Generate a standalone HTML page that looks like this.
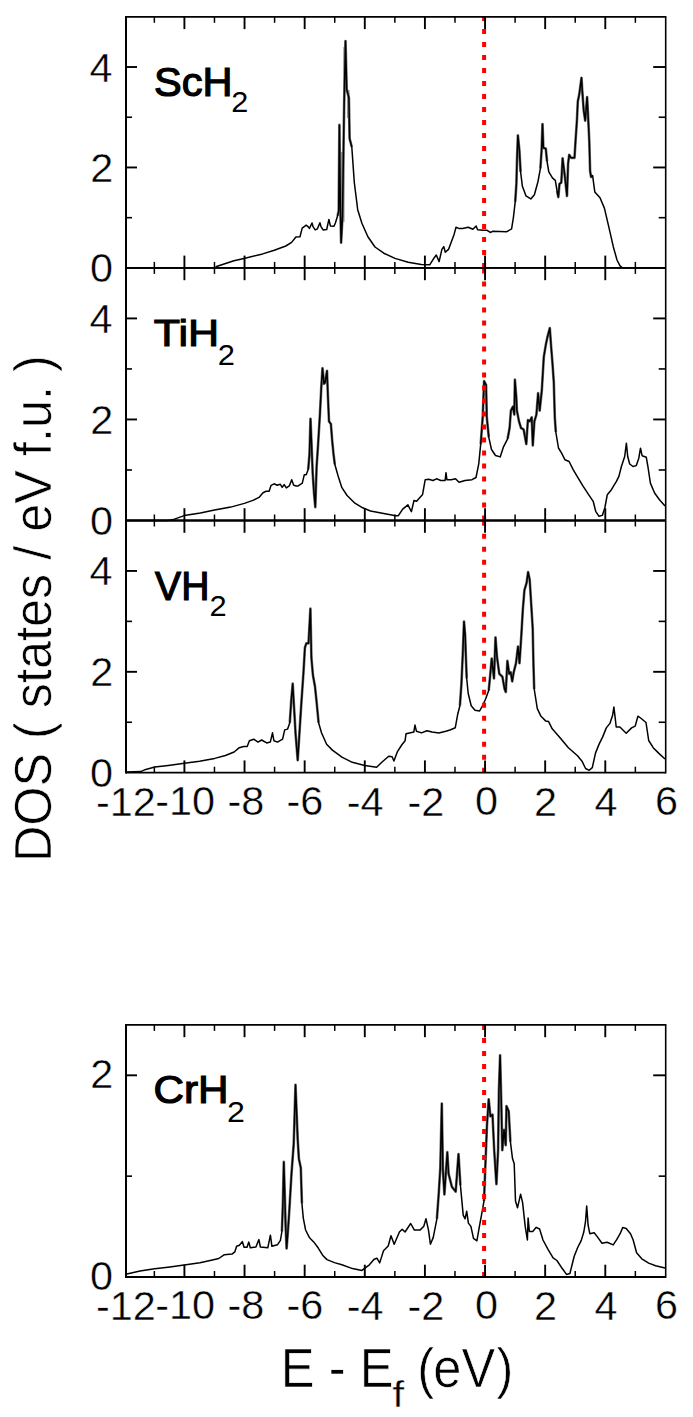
<!DOCTYPE html><html><head><meta charset="utf-8"><style>html,body{margin:0;padding:0;background:#fff;}svg{display:block}text{font-family:"Liberation Sans",sans-serif}</style></head><body>
<svg width="693" height="1417" viewBox="0 0 693 1417">
<rect width="693" height="1417" fill="#fff"/>
<path d="M340.4,152 L344.4,152 L344.6,222 L340.6,222 Z M343.3,47 L345.2,47 L345.2,101 L343.3,101 Z M347,90 L349.6,90 L349.6,118 L347,118 Z" fill="#999"/>
<polyline points="337.6,215.8 338.7,210.8 339.4,124.9 340.4,209.7 341.1,242.7 342.5,216.4 344.2,101.2 345.5,41.0 346.7,89.3 348.9,97.8 349.6,138.5 351.8,147.0" fill="none" stroke="#777" stroke-width="2.7" stroke-linejoin="round"/>
<polyline points="515.2,201.9 516.4,183.9 517.0,160.0 517.9,135.4 519.4,150.4 520.6,171.9" fill="none" stroke="#777" stroke-width="2.7" stroke-linejoin="round"/>
<polyline points="540.4,168.3 541.6,150.4 542.5,124.0 543.4,148.0 545.8,148.6 547.0,161.2" fill="none" stroke="#777" stroke-width="2.7" stroke-linejoin="round"/>
<polyline points="557.1,191.1 558.3,197.1 559.5,183.9 561.3,182.7 562.6,158.3 564.4,172.6 567.0,196.0 568.1,163.7 569.2,154.8 571.1,157.8 574.5,157.8 575.6,140.0 577.0,119.3 577.8,101.5 579.3,94.1 581.5,77.8 582.2,89.6 583.7,110.4 585.2,120.7 587.1,97.0 588.1,116.3 589.3,141.5 590.1,171.1 591.1,177.0 592.6,175.6" fill="none" stroke="#777" stroke-width="2.7" stroke-linejoin="round"/>
<polyline points="308.2,469.5 309.5,453.9 310.5,418.8 311.4,440.9 312.7,473.4 314.0,492.9 315.3,507.1 316.6,466.9 317.9,447.4 319.9,414.9 321.2,389.0 322.5,368.2 324.0,383.8 325.1,382.5 327.0,370.8 327.9,395.5 329.0,421.4 330.9,424.0 332.2,440.9 333.5,453.9 334.8,464.3" fill="none" stroke="#777" stroke-width="2.7" stroke-linejoin="round"/>
<polyline points="480.7,444.1 482.7,417.3 484.1,381.1 486.1,385.1 486.8,417.3 488.8,437.4" fill="none" stroke="#777" stroke-width="2.7" stroke-linejoin="round"/>
<polyline points="507.6,438.8 509.6,428.0 510.9,410.6 512.9,406.6 514.3,414.6 514.9,379.7 516.3,397.2 516.9,410.6 519.0,421.3 521.0,428.0 523.6,429.4 526.3,444.1 527.9,420.0 529.7,421.3 531.7,417.3 532.8,445.5 534.4,421.3 536.4,414.6 538.1,393.2 539.7,410.6 541.8,390.5 543.8,356.9 545.8,344.9 547.5,336.8 549.8,328.1 551.1,346.2 552.5,363.6 553.8,382.4 554.8,417.3 555.8,432.0" fill="none" stroke="#777" stroke-width="2.7" stroke-linejoin="round"/>
<polyline points="289.8,722.7 291.2,701.0 292.7,683.7 294.1,708.2 295.6,734.2 297.7,760.2 299.2,737.1 301.3,703.9 303.5,672.2 304.9,647.6 306.4,643.3 308.5,643.3 310.4,608.7 311.4,657.7 312.9,675.0 315.0,686.6 316.5,701.0 318.6,722.7" fill="none" stroke="#777" stroke-width="2.7" stroke-linejoin="round"/>
<polyline points="459.9,705.7 461.4,684.4 462.9,651.0 464.0,621.5 465.2,635.9 465.9,657.1 466.7,678.4" fill="none" stroke="#777" stroke-width="2.7" stroke-linejoin="round"/>
<polyline points="488.7,690.5 490.2,675.3 491.7,658.6 494.0,678.4 495.5,637.4 497.0,657.1 499.3,673.8 502.4,676.8 504.6,689.0 505.8,692.0 507.4,660.9 509.2,673.8 510.7,672.3 512.2,681.4 513.7,672.3 516.0,663.2 518.0,646.5 519.5,663.2 521.3,635.9 522.8,610.1 524.4,590.3 526.6,582.8 528.1,572.1 529.7,579.7 531.2,604.0 532.7,628.3 533.5,666.2 534.2,689.0" fill="none" stroke="#777" stroke-width="2.7" stroke-linejoin="round"/>
<polyline points="281.9,1231.5 282.9,1203.3 283.8,1161.9 284.8,1195.9 285.6,1225.6 286.6,1248.5 287.8,1233.0 289.3,1210.7 291.5,1173.7 293.7,1144.1 294.4,1121.9 295.5,1084.8 296.7,1114.4 297.7,1139.6 298.9,1158.9 300.8,1167.8 301.9,1203.3" fill="none" stroke="#777" stroke-width="2.7" stroke-linejoin="round"/>
<polyline points="436.9,1218.8 438.8,1192.6 440.3,1168.2 441.8,1103.5 442.9,1170.1 444.4,1194.4 447.3,1152.2 448.6,1173.8 451.9,1186.9 455.7,1191.6 458.5,1154.1 460.4,1185.1" fill="none" stroke="#777" stroke-width="2.7" stroke-linejoin="round"/>
<polyline points="484.0,1201.0 485.3,1167.1 487.0,1124.7 488.7,1099.3 490.4,1116.3 492.5,1114.6 494.2,1150.2 496.4,1184.1 498.1,1150.2 498.9,1090.8 500.1,1055.3 501.4,1107.8 502.3,1150.2 504.0,1129.8 505.7,1145.1 506.5,1106.1 508.7,1111.2 510.4,1141.7" fill="none" stroke="#777" stroke-width="2.7" stroke-linejoin="round"/>
<polyline points="126.0,268.0 215.5,267.6 216.5,266.5 233.9,260.7 244.0,258.4 262.7,253.9 274.3,250.3 285.8,246.0 291.6,242.4 295.9,237.0 300.0,236.7 301.1,232.4 302.2,228.1 306.2,225.2 308.0,226.6 309.4,228.4 312.0,223.0 313.0,226.6 315.2,229.9 317.4,228.8 319.9,222.7 321.0,226.6 323.1,229.9 326.7,229.5 328.9,219.4 330.4,225.9 334.0,226.3 335.4,223.0 337.6,215.8 338.7,210.8 339.4,124.9 340.4,209.7 341.1,242.7 342.5,216.4 344.2,101.2 345.5,41.0 346.7,89.3 348.9,97.8 349.6,138.5 351.8,147.0 354.3,182.5 357.7,209.7 361.9,223.2 367.9,236.8 375.0,247.0 383.8,253.2 395.0,258.4 408.2,262.2 421.3,264.4 429.7,264.8 433.5,258.8 436.3,255.0 439.1,261.6 441.9,249.4 443.8,246.6 445.3,252.2 448.5,249.4 451.3,241.9 454.1,234.4 456.0,227.3 458.8,228.4 462.6,228.4 468.2,227.3 472.9,229.2 476.1,226.0 477.6,229.7 483.2,230.3 487.0,230.3 490.7,232.5 492.4,231.3 506.8,231.7 511.6,228.9 513.4,217.5 515.2,201.9 516.4,183.9 517.0,160.0 517.9,135.4 519.4,150.4 520.6,171.9 522.4,186.3 526.0,195.9 530.8,198.9 534.4,194.7 538.0,181.5 540.4,168.3 541.6,150.4 542.5,124.0 543.4,148.0 545.8,148.6 547.0,161.2 548.8,171.9 552.4,177.9 555.3,180.3 557.1,191.1 558.3,197.1 559.5,183.9 561.3,182.7 562.6,158.3 564.4,172.6 567.0,196.0 568.1,163.7 569.2,154.8 571.1,157.8 574.5,157.8 575.6,140.0 577.0,119.3 577.8,101.5 579.3,94.1 581.5,77.8 582.2,89.6 583.7,110.4 585.2,120.7 587.1,97.0 588.1,116.3 589.3,141.5 590.1,171.1 591.1,177.0 592.6,175.6 594.8,191.9 600.0,197.8 604.4,208.1 608.9,227.4 613.3,246.7 617.0,260.0 620.0,265.9 622.2,267.5 665.0,268.0" fill="none" stroke="#000" stroke-width="1.5" stroke-linejoin="round"/>
<polyline points="126.0,520.5 168.0,520.4 173.1,519.6 184.2,515.6 200.4,512.9 214.5,510.1 230.7,507.1 244.4,503.4 252.9,500.4 259.0,497.4 263.0,492.7 266.1,491.3 269.1,491.3 271.1,485.3 274.1,483.8 277.2,485.3 280.2,484.2 282.2,487.3 284.2,484.6 286.3,487.9 289.3,485.9 291.7,479.8 293.7,485.3 296.4,485.9 297.8,486.1 302.3,483.1 304.3,474.7 306.2,474.7 308.2,469.5 309.5,453.9 310.5,418.8 311.4,440.9 312.7,473.4 314.0,492.9 315.3,507.1 316.6,466.9 317.9,447.4 319.9,414.9 321.2,389.0 322.5,368.2 324.0,383.8 325.1,382.5 327.0,370.8 327.9,395.5 329.0,421.4 330.9,424.0 332.2,440.9 333.5,453.9 334.8,464.3 338.1,476.0 341.9,487.7 347.1,495.5 354.9,503.2 362.7,507.8 370.5,511.0 383.7,513.4 395.8,515.7 398.4,515.7 402.7,509.1 407.9,504.8 411.4,511.7 414.0,500.4 416.6,501.3 419.7,497.8 422.6,494.4 425.2,479.7 428.7,479.3 433.0,480.5 436.5,478.8 440.8,480.5 445.1,480.5 446.0,472.7 446.9,479.7 451.2,479.7 455.5,478.8 459.0,482.3 465.0,480.5 472.0,479.7 476.0,477.5 478.7,464.2 480.7,444.1 482.7,417.3 484.1,381.1 486.1,385.1 486.8,417.3 488.8,437.4 491.5,449.5 495.5,455.5 500.2,456.9 503.5,446.8 507.6,438.8 509.6,428.0 510.9,410.6 512.9,406.6 514.3,414.6 514.9,379.7 516.3,397.2 516.9,410.6 519.0,421.3 521.0,428.0 523.6,429.4 526.3,444.1 527.9,420.0 529.7,421.3 531.7,417.3 532.8,445.5 534.4,421.3 536.4,414.6 538.1,393.2 539.7,410.6 541.8,390.5 543.8,356.9 545.8,344.9 547.5,336.8 549.8,328.1 551.1,346.2 552.5,363.6 553.8,382.4 554.8,417.3 555.8,432.0 558.5,448.0 561.6,453.2 565.0,459.8 569.1,461.5 573.3,469.8 578.2,478.1 583.2,486.4 589.8,496.3 593.2,501.3 595.7,511.3 599.0,516.3 602.3,515.4 604.8,508.0 607.3,494.7 611.4,489.7 616.4,481.4 618.9,476.4 621.4,466.5 624.7,456.5 626.4,443.2 627.7,456.5 629.7,464.0 633.0,466.5 636.3,465.6 638.8,458.2 640.5,448.2 642.1,455.7 646.3,457.3 647.9,466.5 650.4,483.1 654.6,493.0 659.5,499.7 665.0,506.0" fill="none" stroke="#000" stroke-width="1.5" stroke-linejoin="round"/>
<polyline points="126.7,772.0 140.6,771.6 145.8,769.4 154.8,767.1 168.3,765.4 184.4,763.3 199.5,761.2 214.7,758.4 225.4,755.5 234.1,752.0 239.3,747.7 243.6,746.5 247.2,746.5 249.4,740.7 253.7,739.2 258.0,742.1 261.6,740.0 266.7,742.9 270.3,742.1 272.5,732.8 273.9,740.7 277.5,742.1 282.6,739.2 284.7,729.9 287.6,729.1 289.8,722.7 291.2,701.0 292.7,683.7 294.1,708.2 295.6,734.2 297.7,760.2 299.2,737.1 301.3,703.9 303.5,672.2 304.9,647.6 306.4,643.3 308.5,643.3 310.4,608.7 311.4,657.7 312.9,675.0 315.0,686.6 316.5,701.0 318.6,722.7 321.5,732.8 326.6,744.3 332.4,750.1 341.9,757.1 352.3,762.3 364.8,765.5 376.6,767.2 381.8,762.3 388.7,756.3 392.1,756.8 393.9,761.0 397.3,751.9 401.7,745.0 405.1,740.7 406.0,733.8 409.5,732.9 413.8,732.0 415.0,725.1 416.4,731.2 421.6,732.9 426.8,730.8 432.0,732.0 438.9,732.9 445.8,731.2 450.0,730.0 455.3,727.7 457.6,714.8 459.9,705.7 461.4,684.4 462.9,651.0 464.0,621.5 465.2,635.9 465.9,657.1 466.7,678.4 468.2,693.5 471.2,705.7 475.0,710.2 479.6,711.0 482.6,705.7 485.7,698.8 488.7,690.5 490.2,675.3 491.7,658.6 494.0,678.4 495.5,637.4 497.0,657.1 499.3,673.8 502.4,676.8 504.6,689.0 505.8,692.0 507.4,660.9 509.2,673.8 510.7,672.3 512.2,681.4 513.7,672.3 516.0,663.2 518.0,646.5 519.5,663.2 521.3,635.9 522.8,610.1 524.4,590.3 526.6,582.8 528.1,572.1 529.7,579.7 531.2,604.0 532.7,628.3 533.5,666.2 534.2,689.0 537.3,708.7 541.0,716.3 545.6,720.9 548.6,721.6 552.2,728.8 559.4,736.9 568.4,747.7 577.5,755.8 582.0,761.2 585.6,768.5 589.2,770.3 592.3,767.6 595.5,753.1 599.1,744.1 602.7,736.9 606.3,727.9 609.9,723.4 612.6,715.3 613.9,707.1 615.3,718.9 616.2,727.0 619.9,727.0 626.2,733.3 631.6,727.9 635.2,726.1 637.9,716.2 640.6,718.0 646.0,722.5 648.7,740.5 653.2,747.7 658.6,753.1 665.0,759.0" fill="none" stroke="#000" stroke-width="1.5" stroke-linejoin="round"/>
<polyline points="126.9,1274.0 140.0,1271.0 154.6,1268.8 170.0,1266.9 184.1,1265.0 200.0,1262.8 211.3,1260.3 218.8,1258.5 224.4,1254.7 232.0,1254.1 234.8,1251.9 236.6,1246.3 239.4,1245.3 242.3,1241.6 244.1,1247.2 247.0,1247.2 248.8,1242.1 250.3,1247.8 255.9,1247.0 258.9,1239.6 260.4,1247.0 267.8,1247.8 270.4,1235.2 271.9,1246.3 277.4,1244.8 280.4,1240.4 281.9,1231.5 282.9,1203.3 283.8,1161.9 284.8,1195.9 285.6,1225.6 286.6,1248.5 287.8,1233.0 289.3,1210.7 291.5,1173.7 293.7,1144.1 294.4,1121.9 295.5,1084.8 296.7,1114.4 297.7,1139.6 298.9,1158.9 300.8,1167.8 301.9,1203.3 303.3,1218.1 305.6,1230.0 309.3,1237.4 313.7,1241.9 318.1,1247.8 322.6,1255.2 327.0,1259.6 334.4,1262.6 341.9,1264.8 352.5,1268.6 361.9,1270.4 365.6,1267.6 369.4,1264.8 374.1,1259.2 376.9,1258.2 379.7,1262.9 383.5,1250.7 388.2,1246.0 391.0,1235.7 394.2,1244.2 399.4,1232.0 402.2,1229.2 405.0,1232.0 410.7,1223.5 414.4,1230.1 420.0,1230.1 423.8,1226.3 426.0,1218.8 428.5,1230.1 430.4,1244.2 433.2,1237.6 436.9,1218.8 438.8,1192.6 440.3,1168.2 441.8,1103.5 442.9,1170.1 444.4,1194.4 447.3,1152.2 448.6,1173.8 451.9,1186.9 455.7,1191.6 458.5,1154.1 460.4,1185.1 463.2,1215.1 465.1,1218.8 466.7,1211.2 468.4,1223.1 470.9,1226.4 473.5,1238.3 476.9,1240.8 479.4,1226.4 481.9,1212.9 484.0,1201.0 485.3,1167.1 487.0,1124.7 488.7,1099.3 490.4,1116.3 492.5,1114.6 494.2,1150.2 496.4,1184.1 498.1,1150.2 498.9,1090.8 500.1,1055.3 501.4,1107.8 502.3,1150.2 504.0,1129.8 505.7,1145.1 506.5,1106.1 508.7,1111.2 510.4,1141.7 512.5,1158.6 514.2,1163.7 515.5,1201.0 517.5,1207.8 520.6,1194.2 522.6,1202.7 525.2,1226.4 527.4,1240.0 528.1,1218.0 529.4,1231.5 532.8,1231.5 536.2,1227.3 539.6,1229.0 543.0,1240.0 548.0,1249.3 553.1,1257.8 556.9,1260.5 562.1,1268.3 566.5,1274.4 569.9,1273.5 574.2,1256.2 577.7,1247.5 581.2,1240.6 583.8,1232.0 585.5,1221.6 586.7,1206.0 588.1,1225.0 589.8,1233.7 594.2,1232.8 597.6,1237.1 602.0,1243.2 607.1,1242.3 613.2,1244.9 616.7,1239.7 620.1,1233.7 622.7,1227.6 626.2,1228.5 630.5,1233.7 633.1,1239.7 636.6,1252.7 641.8,1258.8 648.7,1263.1 655.6,1265.7 665.0,1268.0" fill="none" stroke="#000" stroke-width="1.5" stroke-linejoin="round"/>
<line x1="484.1" y1="267.9" x2="484.1" y2="16.8" stroke="#ff0000" stroke-width="4" stroke-dasharray="5 8"/>
<line x1="484.1" y1="520.5" x2="484.1" y2="267.9" stroke="#ff0000" stroke-width="4" stroke-dasharray="5 8"/>
<line x1="484.1" y1="772.7" x2="484.1" y2="520.5" stroke="#ff0000" stroke-width="4" stroke-dasharray="5 8"/>
<line x1="484.1" y1="1277.0" x2="484.1" y2="1024.9" stroke="#ff0000" stroke-width="4" stroke-dasharray="5 8"/>
<line x1="126.00" y1="16.80" x2="665.70" y2="16.80" stroke="#000" stroke-width="1.8"/>
<line x1="126.00" y1="267.90" x2="665.70" y2="267.90" stroke="#000" stroke-width="1.8"/>
<line x1="126.00" y1="267.90" x2="665.70" y2="267.90" stroke="#000" stroke-width="1.8"/>
<line x1="126.00" y1="520.50" x2="665.70" y2="520.50" stroke="#000" stroke-width="1.8"/>
<line x1="126.00" y1="520.50" x2="665.70" y2="520.50" stroke="#000" stroke-width="1.8"/>
<line x1="126.00" y1="772.70" x2="665.70" y2="772.70" stroke="#000" stroke-width="1.8"/>
<line x1="126.00" y1="1024.90" x2="665.70" y2="1024.90" stroke="#000" stroke-width="1.8"/>
<line x1="126.00" y1="1277.00" x2="665.70" y2="1277.00" stroke="#000" stroke-width="1.8"/>
<line x1="126.00" y1="15.90" x2="126.00" y2="773.60" stroke="#000" stroke-width="2.0"/>
<line x1="665.70" y1="15.90" x2="665.70" y2="773.60" stroke="#000" stroke-width="1.6"/>
<line x1="126.00" y1="1024.00" x2="126.00" y2="1277.90" stroke="#000" stroke-width="2.0"/>
<line x1="665.70" y1="1024.00" x2="665.70" y2="1277.90" stroke="#000" stroke-width="1.6"/>
<line x1="154.35" y1="16.80" x2="154.35" y2="22.80" stroke="#000" stroke-width="1.5"/>
<line x1="154.35" y1="267.90" x2="154.35" y2="261.90" stroke="#000" stroke-width="1.5"/>
<line x1="184.41" y1="16.80" x2="184.41" y2="29.10" stroke="#000" stroke-width="1.9"/>
<line x1="184.41" y1="267.90" x2="184.41" y2="255.60" stroke="#000" stroke-width="1.9"/>
<line x1="214.47" y1="16.80" x2="214.47" y2="22.80" stroke="#000" stroke-width="1.5"/>
<line x1="214.47" y1="267.90" x2="214.47" y2="261.90" stroke="#000" stroke-width="1.5"/>
<line x1="244.54" y1="16.80" x2="244.54" y2="29.10" stroke="#000" stroke-width="1.9"/>
<line x1="244.54" y1="267.90" x2="244.54" y2="255.60" stroke="#000" stroke-width="1.9"/>
<line x1="274.60" y1="16.80" x2="274.60" y2="22.80" stroke="#000" stroke-width="1.5"/>
<line x1="274.60" y1="267.90" x2="274.60" y2="261.90" stroke="#000" stroke-width="1.5"/>
<line x1="304.66" y1="16.80" x2="304.66" y2="29.10" stroke="#000" stroke-width="1.9"/>
<line x1="304.66" y1="267.90" x2="304.66" y2="255.60" stroke="#000" stroke-width="1.9"/>
<line x1="334.73" y1="16.80" x2="334.73" y2="22.80" stroke="#000" stroke-width="1.5"/>
<line x1="334.73" y1="267.90" x2="334.73" y2="261.90" stroke="#000" stroke-width="1.5"/>
<line x1="364.79" y1="16.80" x2="364.79" y2="29.10" stroke="#000" stroke-width="1.9"/>
<line x1="364.79" y1="267.90" x2="364.79" y2="255.60" stroke="#000" stroke-width="1.9"/>
<line x1="394.85" y1="16.80" x2="394.85" y2="22.80" stroke="#000" stroke-width="1.5"/>
<line x1="394.85" y1="267.90" x2="394.85" y2="261.90" stroke="#000" stroke-width="1.5"/>
<line x1="424.91" y1="16.80" x2="424.91" y2="29.10" stroke="#000" stroke-width="1.9"/>
<line x1="424.91" y1="267.90" x2="424.91" y2="255.60" stroke="#000" stroke-width="1.9"/>
<line x1="454.98" y1="16.80" x2="454.98" y2="22.80" stroke="#000" stroke-width="1.5"/>
<line x1="454.98" y1="267.90" x2="454.98" y2="261.90" stroke="#000" stroke-width="1.5"/>
<line x1="485.04" y1="16.80" x2="485.04" y2="29.10" stroke="#000" stroke-width="1.9"/>
<line x1="485.04" y1="267.90" x2="485.04" y2="255.60" stroke="#000" stroke-width="1.9"/>
<line x1="515.10" y1="16.80" x2="515.10" y2="22.80" stroke="#000" stroke-width="1.5"/>
<line x1="515.10" y1="267.90" x2="515.10" y2="261.90" stroke="#000" stroke-width="1.5"/>
<line x1="545.17" y1="16.80" x2="545.17" y2="29.10" stroke="#000" stroke-width="1.9"/>
<line x1="545.17" y1="267.90" x2="545.17" y2="255.60" stroke="#000" stroke-width="1.9"/>
<line x1="575.23" y1="16.80" x2="575.23" y2="22.80" stroke="#000" stroke-width="1.5"/>
<line x1="575.23" y1="267.90" x2="575.23" y2="261.90" stroke="#000" stroke-width="1.5"/>
<line x1="605.29" y1="16.80" x2="605.29" y2="29.10" stroke="#000" stroke-width="1.9"/>
<line x1="605.29" y1="267.90" x2="605.29" y2="255.60" stroke="#000" stroke-width="1.9"/>
<line x1="635.36" y1="16.80" x2="635.36" y2="22.80" stroke="#000" stroke-width="1.5"/>
<line x1="635.36" y1="267.90" x2="635.36" y2="261.90" stroke="#000" stroke-width="1.5"/>
<line x1="154.35" y1="267.90" x2="154.35" y2="273.90" stroke="#000" stroke-width="1.5"/>
<line x1="154.35" y1="520.50" x2="154.35" y2="514.50" stroke="#000" stroke-width="1.5"/>
<line x1="184.41" y1="267.90" x2="184.41" y2="280.20" stroke="#000" stroke-width="1.9"/>
<line x1="184.41" y1="520.50" x2="184.41" y2="508.20" stroke="#000" stroke-width="1.9"/>
<line x1="214.47" y1="267.90" x2="214.47" y2="273.90" stroke="#000" stroke-width="1.5"/>
<line x1="214.47" y1="520.50" x2="214.47" y2="514.50" stroke="#000" stroke-width="1.5"/>
<line x1="244.54" y1="267.90" x2="244.54" y2="280.20" stroke="#000" stroke-width="1.9"/>
<line x1="244.54" y1="520.50" x2="244.54" y2="508.20" stroke="#000" stroke-width="1.9"/>
<line x1="274.60" y1="267.90" x2="274.60" y2="273.90" stroke="#000" stroke-width="1.5"/>
<line x1="274.60" y1="520.50" x2="274.60" y2="514.50" stroke="#000" stroke-width="1.5"/>
<line x1="304.66" y1="267.90" x2="304.66" y2="280.20" stroke="#000" stroke-width="1.9"/>
<line x1="304.66" y1="520.50" x2="304.66" y2="508.20" stroke="#000" stroke-width="1.9"/>
<line x1="334.73" y1="267.90" x2="334.73" y2="273.90" stroke="#000" stroke-width="1.5"/>
<line x1="334.73" y1="520.50" x2="334.73" y2="514.50" stroke="#000" stroke-width="1.5"/>
<line x1="364.79" y1="267.90" x2="364.79" y2="280.20" stroke="#000" stroke-width="1.9"/>
<line x1="364.79" y1="520.50" x2="364.79" y2="508.20" stroke="#000" stroke-width="1.9"/>
<line x1="394.85" y1="267.90" x2="394.85" y2="273.90" stroke="#000" stroke-width="1.5"/>
<line x1="394.85" y1="520.50" x2="394.85" y2="514.50" stroke="#000" stroke-width="1.5"/>
<line x1="424.91" y1="267.90" x2="424.91" y2="280.20" stroke="#000" stroke-width="1.9"/>
<line x1="424.91" y1="520.50" x2="424.91" y2="508.20" stroke="#000" stroke-width="1.9"/>
<line x1="454.98" y1="267.90" x2="454.98" y2="273.90" stroke="#000" stroke-width="1.5"/>
<line x1="454.98" y1="520.50" x2="454.98" y2="514.50" stroke="#000" stroke-width="1.5"/>
<line x1="485.04" y1="267.90" x2="485.04" y2="280.20" stroke="#000" stroke-width="1.9"/>
<line x1="485.04" y1="520.50" x2="485.04" y2="508.20" stroke="#000" stroke-width="1.9"/>
<line x1="515.10" y1="267.90" x2="515.10" y2="273.90" stroke="#000" stroke-width="1.5"/>
<line x1="515.10" y1="520.50" x2="515.10" y2="514.50" stroke="#000" stroke-width="1.5"/>
<line x1="545.17" y1="267.90" x2="545.17" y2="280.20" stroke="#000" stroke-width="1.9"/>
<line x1="545.17" y1="520.50" x2="545.17" y2="508.20" stroke="#000" stroke-width="1.9"/>
<line x1="575.23" y1="267.90" x2="575.23" y2="273.90" stroke="#000" stroke-width="1.5"/>
<line x1="575.23" y1="520.50" x2="575.23" y2="514.50" stroke="#000" stroke-width="1.5"/>
<line x1="605.29" y1="267.90" x2="605.29" y2="280.20" stroke="#000" stroke-width="1.9"/>
<line x1="605.29" y1="520.50" x2="605.29" y2="508.20" stroke="#000" stroke-width="1.9"/>
<line x1="635.36" y1="267.90" x2="635.36" y2="273.90" stroke="#000" stroke-width="1.5"/>
<line x1="635.36" y1="520.50" x2="635.36" y2="514.50" stroke="#000" stroke-width="1.5"/>
<line x1="154.35" y1="520.50" x2="154.35" y2="526.50" stroke="#000" stroke-width="1.5"/>
<line x1="154.35" y1="772.70" x2="154.35" y2="766.70" stroke="#000" stroke-width="1.5"/>
<line x1="184.41" y1="520.50" x2="184.41" y2="532.80" stroke="#000" stroke-width="1.9"/>
<line x1="184.41" y1="772.70" x2="184.41" y2="760.40" stroke="#000" stroke-width="1.9"/>
<line x1="214.47" y1="520.50" x2="214.47" y2="526.50" stroke="#000" stroke-width="1.5"/>
<line x1="214.47" y1="772.70" x2="214.47" y2="766.70" stroke="#000" stroke-width="1.5"/>
<line x1="244.54" y1="520.50" x2="244.54" y2="532.80" stroke="#000" stroke-width="1.9"/>
<line x1="244.54" y1="772.70" x2="244.54" y2="760.40" stroke="#000" stroke-width="1.9"/>
<line x1="274.60" y1="520.50" x2="274.60" y2="526.50" stroke="#000" stroke-width="1.5"/>
<line x1="274.60" y1="772.70" x2="274.60" y2="766.70" stroke="#000" stroke-width="1.5"/>
<line x1="304.66" y1="520.50" x2="304.66" y2="532.80" stroke="#000" stroke-width="1.9"/>
<line x1="304.66" y1="772.70" x2="304.66" y2="760.40" stroke="#000" stroke-width="1.9"/>
<line x1="334.73" y1="520.50" x2="334.73" y2="526.50" stroke="#000" stroke-width="1.5"/>
<line x1="334.73" y1="772.70" x2="334.73" y2="766.70" stroke="#000" stroke-width="1.5"/>
<line x1="364.79" y1="520.50" x2="364.79" y2="532.80" stroke="#000" stroke-width="1.9"/>
<line x1="364.79" y1="772.70" x2="364.79" y2="760.40" stroke="#000" stroke-width="1.9"/>
<line x1="394.85" y1="520.50" x2="394.85" y2="526.50" stroke="#000" stroke-width="1.5"/>
<line x1="394.85" y1="772.70" x2="394.85" y2="766.70" stroke="#000" stroke-width="1.5"/>
<line x1="424.91" y1="520.50" x2="424.91" y2="532.80" stroke="#000" stroke-width="1.9"/>
<line x1="424.91" y1="772.70" x2="424.91" y2="760.40" stroke="#000" stroke-width="1.9"/>
<line x1="454.98" y1="520.50" x2="454.98" y2="526.50" stroke="#000" stroke-width="1.5"/>
<line x1="454.98" y1="772.70" x2="454.98" y2="766.70" stroke="#000" stroke-width="1.5"/>
<line x1="485.04" y1="520.50" x2="485.04" y2="532.80" stroke="#000" stroke-width="1.9"/>
<line x1="485.04" y1="772.70" x2="485.04" y2="760.40" stroke="#000" stroke-width="1.9"/>
<line x1="515.10" y1="520.50" x2="515.10" y2="526.50" stroke="#000" stroke-width="1.5"/>
<line x1="515.10" y1="772.70" x2="515.10" y2="766.70" stroke="#000" stroke-width="1.5"/>
<line x1="545.17" y1="520.50" x2="545.17" y2="532.80" stroke="#000" stroke-width="1.9"/>
<line x1="545.17" y1="772.70" x2="545.17" y2="760.40" stroke="#000" stroke-width="1.9"/>
<line x1="575.23" y1="520.50" x2="575.23" y2="526.50" stroke="#000" stroke-width="1.5"/>
<line x1="575.23" y1="772.70" x2="575.23" y2="766.70" stroke="#000" stroke-width="1.5"/>
<line x1="605.29" y1="520.50" x2="605.29" y2="532.80" stroke="#000" stroke-width="1.9"/>
<line x1="605.29" y1="772.70" x2="605.29" y2="760.40" stroke="#000" stroke-width="1.9"/>
<line x1="635.36" y1="520.50" x2="635.36" y2="526.50" stroke="#000" stroke-width="1.5"/>
<line x1="635.36" y1="772.70" x2="635.36" y2="766.70" stroke="#000" stroke-width="1.5"/>
<line x1="154.35" y1="1024.90" x2="154.35" y2="1030.90" stroke="#000" stroke-width="1.5"/>
<line x1="154.35" y1="1277.00" x2="154.35" y2="1271.00" stroke="#000" stroke-width="1.5"/>
<line x1="184.41" y1="1024.90" x2="184.41" y2="1037.20" stroke="#000" stroke-width="1.9"/>
<line x1="184.41" y1="1277.00" x2="184.41" y2="1264.70" stroke="#000" stroke-width="1.9"/>
<line x1="214.47" y1="1024.90" x2="214.47" y2="1030.90" stroke="#000" stroke-width="1.5"/>
<line x1="214.47" y1="1277.00" x2="214.47" y2="1271.00" stroke="#000" stroke-width="1.5"/>
<line x1="244.54" y1="1024.90" x2="244.54" y2="1037.20" stroke="#000" stroke-width="1.9"/>
<line x1="244.54" y1="1277.00" x2="244.54" y2="1264.70" stroke="#000" stroke-width="1.9"/>
<line x1="274.60" y1="1024.90" x2="274.60" y2="1030.90" stroke="#000" stroke-width="1.5"/>
<line x1="274.60" y1="1277.00" x2="274.60" y2="1271.00" stroke="#000" stroke-width="1.5"/>
<line x1="304.66" y1="1024.90" x2="304.66" y2="1037.20" stroke="#000" stroke-width="1.9"/>
<line x1="304.66" y1="1277.00" x2="304.66" y2="1264.70" stroke="#000" stroke-width="1.9"/>
<line x1="334.73" y1="1024.90" x2="334.73" y2="1030.90" stroke="#000" stroke-width="1.5"/>
<line x1="334.73" y1="1277.00" x2="334.73" y2="1271.00" stroke="#000" stroke-width="1.5"/>
<line x1="364.79" y1="1024.90" x2="364.79" y2="1037.20" stroke="#000" stroke-width="1.9"/>
<line x1="364.79" y1="1277.00" x2="364.79" y2="1264.70" stroke="#000" stroke-width="1.9"/>
<line x1="394.85" y1="1024.90" x2="394.85" y2="1030.90" stroke="#000" stroke-width="1.5"/>
<line x1="394.85" y1="1277.00" x2="394.85" y2="1271.00" stroke="#000" stroke-width="1.5"/>
<line x1="424.91" y1="1024.90" x2="424.91" y2="1037.20" stroke="#000" stroke-width="1.9"/>
<line x1="424.91" y1="1277.00" x2="424.91" y2="1264.70" stroke="#000" stroke-width="1.9"/>
<line x1="454.98" y1="1024.90" x2="454.98" y2="1030.90" stroke="#000" stroke-width="1.5"/>
<line x1="454.98" y1="1277.00" x2="454.98" y2="1271.00" stroke="#000" stroke-width="1.5"/>
<line x1="485.04" y1="1024.90" x2="485.04" y2="1037.20" stroke="#000" stroke-width="1.9"/>
<line x1="485.04" y1="1277.00" x2="485.04" y2="1264.70" stroke="#000" stroke-width="1.9"/>
<line x1="515.10" y1="1024.90" x2="515.10" y2="1030.90" stroke="#000" stroke-width="1.5"/>
<line x1="515.10" y1="1277.00" x2="515.10" y2="1271.00" stroke="#000" stroke-width="1.5"/>
<line x1="545.17" y1="1024.90" x2="545.17" y2="1037.20" stroke="#000" stroke-width="1.9"/>
<line x1="545.17" y1="1277.00" x2="545.17" y2="1264.70" stroke="#000" stroke-width="1.9"/>
<line x1="575.23" y1="1024.90" x2="575.23" y2="1030.90" stroke="#000" stroke-width="1.5"/>
<line x1="575.23" y1="1277.00" x2="575.23" y2="1271.00" stroke="#000" stroke-width="1.5"/>
<line x1="605.29" y1="1024.90" x2="605.29" y2="1037.20" stroke="#000" stroke-width="1.9"/>
<line x1="605.29" y1="1277.00" x2="605.29" y2="1264.70" stroke="#000" stroke-width="1.9"/>
<line x1="635.36" y1="1024.90" x2="635.36" y2="1030.90" stroke="#000" stroke-width="1.5"/>
<line x1="635.36" y1="1277.00" x2="635.36" y2="1271.00" stroke="#000" stroke-width="1.5"/>
<line x1="126.00" y1="217.68" x2="132.00" y2="217.68" stroke="#000" stroke-width="1.6"/>
<line x1="665.70" y1="217.68" x2="658.70" y2="217.68" stroke="#000" stroke-width="1.6"/>
<line x1="126.00" y1="167.46" x2="137.00" y2="167.46" stroke="#000" stroke-width="1.9"/>
<line x1="665.70" y1="167.46" x2="653.20" y2="167.46" stroke="#000" stroke-width="1.9"/>
<line x1="126.00" y1="117.24" x2="132.00" y2="117.24" stroke="#000" stroke-width="1.6"/>
<line x1="665.70" y1="117.24" x2="658.70" y2="117.24" stroke="#000" stroke-width="1.6"/>
<line x1="126.00" y1="67.02" x2="137.00" y2="67.02" stroke="#000" stroke-width="1.9"/>
<line x1="665.70" y1="67.02" x2="653.20" y2="67.02" stroke="#000" stroke-width="1.9"/>
<text transform="translate(89.89,282.18) scale(0.4140,0.4140)" font-size="100" stroke="#fff" stroke-width="1">0</text>
<text transform="translate(90.30,181.95) scale(0.4140,0.4140)" font-size="100" stroke="#fff" stroke-width="1">2</text>
<text transform="translate(89.47,81.51) scale(0.4140,0.4140)" font-size="100" stroke="#fff" stroke-width="1">4</text>
<text transform="translate(153.95,95.79) scale(0.4156,0.4027)" font-size="100" stroke="#000" stroke-width="3.0">ScH</text>
<text transform="translate(231.27,111.60) scale(0.3065,0.2886)" font-size="100">2</text>
<line x1="126.00" y1="469.98" x2="132.00" y2="469.98" stroke="#000" stroke-width="1.6"/>
<line x1="665.70" y1="469.98" x2="658.70" y2="469.98" stroke="#000" stroke-width="1.6"/>
<line x1="126.00" y1="419.46" x2="137.00" y2="419.46" stroke="#000" stroke-width="1.9"/>
<line x1="665.70" y1="419.46" x2="653.20" y2="419.46" stroke="#000" stroke-width="1.9"/>
<line x1="126.00" y1="368.94" x2="132.00" y2="368.94" stroke="#000" stroke-width="1.6"/>
<line x1="665.70" y1="368.94" x2="658.70" y2="368.94" stroke="#000" stroke-width="1.6"/>
<line x1="126.00" y1="318.42" x2="137.00" y2="318.42" stroke="#000" stroke-width="1.9"/>
<line x1="665.70" y1="318.42" x2="653.20" y2="318.42" stroke="#000" stroke-width="1.9"/>
<text transform="translate(89.89,534.78) scale(0.4140,0.4140)" font-size="100" stroke="#fff" stroke-width="1">0</text>
<text transform="translate(90.30,433.95) scale(0.4140,0.4140)" font-size="100" stroke="#fff" stroke-width="1">2</text>
<text transform="translate(89.47,332.91) scale(0.4140,0.4140)" font-size="100" stroke="#fff" stroke-width="1">4</text>
<text transform="translate(153.77,346.45) scale(0.4306,0.3750)" font-size="100" stroke="#000" stroke-width="3.0">TiH</text>
<text transform="translate(217.76,364.50) scale(0.3087,0.2886)" font-size="100">2</text>
<line x1="126.00" y1="722.26" x2="132.00" y2="722.26" stroke="#000" stroke-width="1.6"/>
<line x1="665.70" y1="722.26" x2="658.70" y2="722.26" stroke="#000" stroke-width="1.6"/>
<line x1="126.00" y1="671.82" x2="137.00" y2="671.82" stroke="#000" stroke-width="1.9"/>
<line x1="665.70" y1="671.82" x2="653.20" y2="671.82" stroke="#000" stroke-width="1.9"/>
<line x1="126.00" y1="621.38" x2="132.00" y2="621.38" stroke="#000" stroke-width="1.6"/>
<line x1="665.70" y1="621.38" x2="658.70" y2="621.38" stroke="#000" stroke-width="1.6"/>
<line x1="126.00" y1="570.94" x2="137.00" y2="570.94" stroke="#000" stroke-width="1.9"/>
<line x1="665.70" y1="570.94" x2="653.20" y2="570.94" stroke="#000" stroke-width="1.9"/>
<text transform="translate(89.89,786.98) scale(0.4140,0.4140)" font-size="100" stroke="#fff" stroke-width="1">0</text>
<text transform="translate(90.30,686.31) scale(0.4140,0.4140)" font-size="100" stroke="#fff" stroke-width="1">2</text>
<text transform="translate(89.47,585.43) scale(0.4140,0.4140)" font-size="100" stroke="#fff" stroke-width="1">4</text>
<text transform="translate(155.09,600.29) scale(0.3910,0.4070)" font-size="100" stroke="#000" stroke-width="3.0">VH</text>
<text transform="translate(209.46,615.80) scale(0.3087,0.2900)" font-size="100">2</text>
<line x1="126.00" y1="1176.16" x2="132.00" y2="1176.16" stroke="#000" stroke-width="1.6"/>
<line x1="665.70" y1="1176.16" x2="658.70" y2="1176.16" stroke="#000" stroke-width="1.6"/>
<line x1="126.00" y1="1075.32" x2="137.00" y2="1075.32" stroke="#000" stroke-width="1.9"/>
<line x1="665.70" y1="1075.32" x2="653.20" y2="1075.32" stroke="#000" stroke-width="1.9"/>
<text transform="translate(89.89,1289.88) scale(0.4140,0.4140)" font-size="100" stroke="#fff" stroke-width="1">0</text>
<text transform="translate(90.30,1088.41) scale(0.4140,0.4140)" font-size="100" stroke="#fff" stroke-width="1">2</text>
<text transform="translate(153.51,1103.41) scale(0.4222,0.3973)" font-size="100" stroke="#000" stroke-width="3.0">CrH</text>
<text transform="translate(227.09,1122.00) scale(0.3217,0.2971)" font-size="100">2</text>
<text transform="translate(95.99,815.81) scale(0.4140,0.4140)" font-size="100" stroke="#fff" stroke-width="1">-12</text>
<text transform="translate(155.19,815.40) scale(0.4140,0.4140)" font-size="100" stroke="#fff" stroke-width="1">-10</text>
<text transform="translate(227.58,815.40) scale(0.4140,0.4140)" font-size="100" stroke="#fff" stroke-width="1">-8</text>
<text transform="translate(286.38,815.40) scale(0.4140,0.4140)" font-size="100" stroke="#fff" stroke-width="1">-6</text>
<text transform="translate(346.67,815.81) scale(0.4140,0.4140)" font-size="100" stroke="#fff" stroke-width="1">-4</text>
<text transform="translate(407.58,815.81) scale(0.4140,0.4140)" font-size="100" stroke="#fff" stroke-width="1">-2</text>
<text transform="translate(474.92,815.40) scale(0.4140,0.4140)" font-size="100" stroke="#fff" stroke-width="1">0</text>
<text transform="translate(533.91,815.81) scale(0.4140,0.4140)" font-size="100" stroke="#fff" stroke-width="1">2</text>
<text transform="translate(594.51,815.81) scale(0.4140,0.4140)" font-size="100" stroke="#fff" stroke-width="1">4</text>
<text transform="translate(655.00,815.40) scale(0.4140,0.4140)" font-size="100" stroke="#fff" stroke-width="1">6</text>
<text transform="translate(95.99,1319.71) scale(0.4140,0.4140)" font-size="100" stroke="#fff" stroke-width="1">-12</text>
<text transform="translate(155.19,1319.30) scale(0.4140,0.4140)" font-size="100" stroke="#fff" stroke-width="1">-10</text>
<text transform="translate(227.58,1319.30) scale(0.4140,0.4140)" font-size="100" stroke="#fff" stroke-width="1">-8</text>
<text transform="translate(286.38,1319.30) scale(0.4140,0.4140)" font-size="100" stroke="#fff" stroke-width="1">-6</text>
<text transform="translate(346.67,1319.71) scale(0.4140,0.4140)" font-size="100" stroke="#fff" stroke-width="1">-4</text>
<text transform="translate(407.58,1319.71) scale(0.4140,0.4140)" font-size="100" stroke="#fff" stroke-width="1">-2</text>
<text transform="translate(474.92,1319.30) scale(0.4140,0.4140)" font-size="100" stroke="#fff" stroke-width="1">0</text>
<text transform="translate(533.91,1319.71) scale(0.4140,0.4140)" font-size="100" stroke="#fff" stroke-width="1">2</text>
<text transform="translate(594.51,1319.71) scale(0.4140,0.4140)" font-size="100" stroke="#fff" stroke-width="1">4</text>
<text transform="translate(655.00,1319.30) scale(0.4140,0.4140)" font-size="100" stroke="#fff" stroke-width="1">6</text>
<text transform="translate(51,862.1) rotate(-90) scale(0.504,0.522)" font-size="100" stroke="#fff" stroke-width="1.2">DOS ( states / eV f.u. )</text>
<text transform="translate(280.85,1386.96) scale(0.5060,0.5580)" font-size="100" stroke="#fff" stroke-width="1.2">E</text>
<text transform="translate(328.77,1386.96) scale(0.5060,0.5580)" font-size="100" stroke="#fff" stroke-width="1.2">-</text>
<text transform="translate(359.65,1386.96) scale(0.5060,0.5580)" font-size="100" stroke="#fff" stroke-width="1.2">E</text>
<text transform="translate(392.14,1407.06) scale(0.4320,0.3606)" font-size="100" stroke="#fff" stroke-width="1.2">f</text>
<text transform="translate(417.26,1386.96) scale(0.5060,0.5580)" font-size="100" stroke="#fff" stroke-width="1.2">(</text>
<text transform="translate(433.37,1386.96) scale(0.5060,0.5580)" font-size="100" stroke="#fff" stroke-width="1.2">e</text>
<text transform="translate(461.59,1386.96) scale(0.5060,0.5580)" font-size="100" stroke="#fff" stroke-width="1.2">V</text>
<text transform="translate(496.48,1386.96) scale(0.5060,0.5580)" font-size="100" stroke="#fff" stroke-width="1.2">)</text>
</svg></body></html>
